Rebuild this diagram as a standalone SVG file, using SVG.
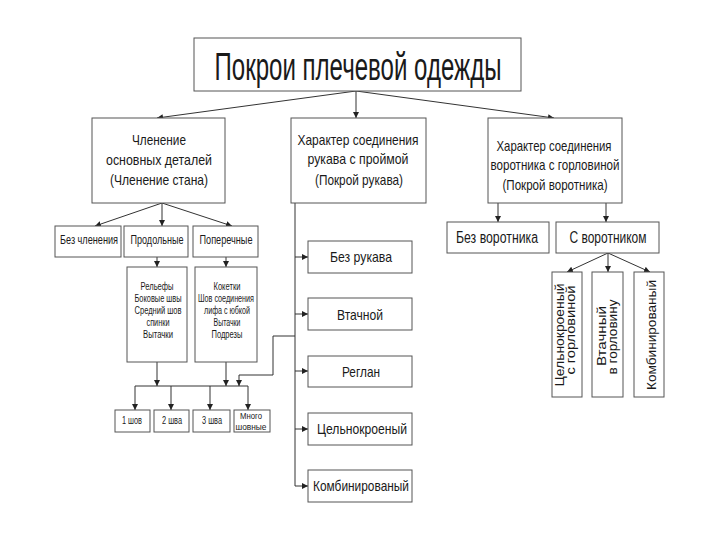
<svg xmlns="http://www.w3.org/2000/svg" width="720" height="540" viewBox="0 0 720 540">
<defs>
<marker id="ah" markerWidth="6" markerHeight="6" refX="6" refY="3" orient="auto" markerUnits="userSpaceOnUse">
<path d="M0,0 L6,3 L0,6 z" fill="#222"/>
</marker>
<style>
.b{fill:#fff;stroke:#555;stroke-width:1}
.t{font-family:"Liberation Sans Narrow","Liberation Sans",Arial,sans-serif;fill:#1a1a1a;text-anchor:middle}
.v{font-family:"Liberation Sans",Arial,sans-serif;fill:#1a1a1a;text-anchor:middle;font-size:13px}
.c{fill:none;stroke:#333;stroke-width:1}
.a{fill:none;stroke:#333;stroke-width:1;marker-end:url(#ah)}
</style>
</defs>
<rect width="720" height="540" fill="#fff"/>
<g id="connectors">
<path class="a" d="M356,91 L157,118"/>
<path class="a" d="M356,91 L356,118"/>
<path class="a" d="M356,91 L554,118"/>
<path class="a" d="M162,203 L95,226"/>
<path class="a" d="M162,203 L162,226"/>
<path class="a" d="M162,203 L232,226"/>
<path class="a" d="M157,257 L157,267"/>
<path class="a" d="M226,257 L226,267"/>
<path class="a" d="M157,362 L157,386"/>
<path class="a" d="M226,362 L226,386"/>
<path class="c" d="M135,386 L248,386"/>
<path class="a" d="M135,386 L135,410"/>
<path class="a" d="M171,386 L171,410"/>
<path class="a" d="M210,386 L210,410"/>
<path class="a" d="M248,386 L248,410"/>
<path class="c" d="M295,336 L273,336 L273,375 L239,375"/>
<path class="a" d="M239,375 L239,386"/>
<path class="c" d="M295,203 L295,486"/>
<path class="a" d="M295,257 L308,257"/>
<path class="a" d="M295,314 L308,314"/>
<path class="a" d="M295,371 L308,371"/>
<path class="a" d="M295,429 L308,429"/>
<path class="a" d="M295,486 L308,486"/>
<path class="a" d="M498,203 L498,222"/>
<path class="a" d="M606,203 L606,222"/>
<path class="a" d="M608,253 L567,272"/>
<path class="a" d="M608,253 L608,272"/>
<path class="a" d="M608,253 L650,272"/>
</g>
<g id="title">
<rect class="b" x="194" y="38" width="327" height="53"/>
<text class="t" x="358" y="80" font-size="38" textLength="287" lengthAdjust="spacingAndGlyphs">Покрои плечевой одежды</text>
</g>
<g id="chlenenie">
<rect class="b" x="92" y="118" width="133" height="85"/>
<text class="t" font-size="15" x="159" y="145" textLength="54" lengthAdjust="spacingAndGlyphs">Членение</text>
<text class="t" font-size="15" x="159" y="165" textLength="106" lengthAdjust="spacingAndGlyphs">основных деталей</text>
<text class="t" font-size="15" x="159" y="185" textLength="98" lengthAdjust="spacingAndGlyphs">(Членение стана)</text>
</g>
<g id="rukav">
<rect class="b" x="291" y="118" width="135" height="85"/>
<text class="t" font-size="15" x="358" y="145" textLength="121" lengthAdjust="spacingAndGlyphs">Характер соединения</text>
<text class="t" font-size="15" x="358" y="164" textLength="101" lengthAdjust="spacingAndGlyphs">рукава с проймой</text>
<text class="t" font-size="15" x="359" y="185" textLength="88" lengthAdjust="spacingAndGlyphs">(Покрой рукава)</text>
</g>
<g id="vorotnik">
<rect class="b" x="488" y="118" width="134" height="85"/>
<text class="t" font-size="15" x="554" y="151" textLength="115" lengthAdjust="spacingAndGlyphs">Характер соединения</text>
<text class="t" font-size="15" x="555" y="170" textLength="129" lengthAdjust="spacingAndGlyphs">воротника с горловиной</text>
<text class="t" font-size="15" x="555" y="190" textLength="105" lengthAdjust="spacingAndGlyphs">(Покрой воротника)</text>
</g>
<g id="bez-chleneniya">
<rect class="b" x="55" y="226" width="66" height="31"/>
<text class="t" font-size="12" x="89" y="244" textLength="58" lengthAdjust="spacingAndGlyphs">Без членения</text>
</g>
<g id="prodolnye">
<rect class="b" x="124" y="226" width="64" height="31"/>
<text class="t" font-size="12" x="157" y="244" textLength="53" lengthAdjust="spacingAndGlyphs">Продольные</text>
</g>
<g id="poperechnye">
<rect class="b" x="193" y="226" width="65" height="31"/>
<text class="t" font-size="12" x="226" y="244" textLength="53" lengthAdjust="spacingAndGlyphs">Поперечные</text>
</g>
<g id="prodolnye-list">
<rect class="b" x="127" y="267" width="60" height="95"/>
<text class="t" font-size="10" x="157" y="290" textLength="33" lengthAdjust="spacingAndGlyphs">Рельефы</text>
<text class="t" font-size="10" x="158" y="302" textLength="47" lengthAdjust="spacingAndGlyphs">Боковые швы</text>
<text class="t" font-size="10" x="158" y="314" textLength="47" lengthAdjust="spacingAndGlyphs">Средний шов</text>
<text class="t" font-size="10" x="158" y="326" textLength="23" lengthAdjust="spacingAndGlyphs">спинки</text>
<text class="t" font-size="10" x="158" y="338" textLength="30" lengthAdjust="spacingAndGlyphs">Вытачки</text>
</g>
<g id="poperechnye-list">
<rect class="b" x="195" y="267" width="62" height="95"/>
<text class="t" font-size="10" x="227" y="290" textLength="27" lengthAdjust="spacingAndGlyphs">Кокетки</text>
<text class="t" font-size="10" x="226" y="302" textLength="56" lengthAdjust="spacingAndGlyphs">Шов соединения</text>
<text class="t" font-size="10" x="227" y="314" textLength="46" lengthAdjust="spacingAndGlyphs">лифа с юбкой</text>
<text class="t" font-size="10" x="227" y="326" textLength="27" lengthAdjust="spacingAndGlyphs">Вытачки</text>
<text class="t" font-size="10" x="227" y="338" textLength="31" lengthAdjust="spacingAndGlyphs">Подрезы</text>
</g>
<g id="shov1">
<rect class="b" x="115" y="410" width="35" height="22"/>
<text class="t" font-size="10" x="132" y="424" textLength="20" lengthAdjust="spacingAndGlyphs">1 шов</text>
</g>
<g id="shov2">
<rect class="b" x="154" y="410" width="35" height="22"/>
<text class="t" font-size="10" x="172" y="424" textLength="20" lengthAdjust="spacingAndGlyphs">2 шва</text>
</g>
<g id="shov3">
<rect class="b" x="193" y="410" width="37" height="22"/>
<text class="t" font-size="10" x="212" y="424" textLength="20" lengthAdjust="spacingAndGlyphs">3 шва</text>
</g>
<g id="mnogoshovnye">
<rect class="b" x="234" y="410" width="36" height="22"/>
<text class="t" font-size="9" x="251" y="419" textLength="22" lengthAdjust="spacingAndGlyphs">Много</text>
<text class="t" font-size="9" x="251" y="430" textLength="31" lengthAdjust="spacingAndGlyphs">шовные</text>
</g>
<g id="bez-rukava">
<rect class="b" x="308" y="241" width="104" height="32"/>
<text class="t" font-size="15" x="361" y="262" textLength="62" lengthAdjust="spacingAndGlyphs">Без рукава</text>
</g>
<g id="vtachnoy">
<rect class="b" x="308" y="298" width="104" height="32"/>
<text class="t" font-size="15" x="360" y="320" textLength="46" lengthAdjust="spacingAndGlyphs">Втачной</text>
</g>
<g id="reglan">
<rect class="b" x="308" y="356" width="104" height="31"/>
<text class="t" font-size="15" x="361" y="377" textLength="38" lengthAdjust="spacingAndGlyphs">Реглан</text>
</g>
<g id="celnokroeny">
<rect class="b" x="308" y="413" width="104" height="32"/>
<text class="t" font-size="15" x="362" y="434" textLength="90" lengthAdjust="spacingAndGlyphs">Цельнокроеный</text>
</g>
<g id="kombinirovany">
<rect class="b" x="308" y="470" width="104" height="32"/>
<text class="t" font-size="15" x="361" y="491" textLength="96" lengthAdjust="spacingAndGlyphs">Комбинированый</text>
</g>
<g id="bez-vorotnika">
<rect class="b" x="447" y="222" width="102" height="31"/>
<text class="t" font-size="16" x="497" y="243" textLength="82" lengthAdjust="spacingAndGlyphs">Без воротника</text>
</g>
<g id="s-vorotnikom">
<rect class="b" x="556" y="222" width="103" height="31"/>
<text class="t" font-size="16" x="608" y="243" textLength="77" lengthAdjust="spacingAndGlyphs">С воротником</text>
</g>
<g id="v-celnokroeny">
<rect class="b" x="552" y="272" width="30" height="125"/>
<text class="v" transform="translate(564,335) rotate(-90)" textLength="103" lengthAdjust="spacingAndGlyphs">Цельнокроеный</text>
<text class="v" transform="translate(575,330) rotate(-90)" textLength="89" lengthAdjust="spacingAndGlyphs">с горловиной</text>
</g>
<g id="v-vtachny">
<rect class="b" x="592" y="272" width="31" height="125"/>
<text class="v" transform="translate(606,336) rotate(-90)" textLength="60" lengthAdjust="spacingAndGlyphs">Втачный</text>
<text class="v" transform="translate(617,337) rotate(-90)" textLength="75" lengthAdjust="spacingAndGlyphs">в горловину</text>
</g>
<g id="v-kombinirovany">
<rect class="b" x="634" y="272" width="30" height="125"/>
<text class="v" transform="translate(656,335) rotate(-90)" textLength="110" lengthAdjust="spacingAndGlyphs">Комбинированый</text>
</g>
</svg>
